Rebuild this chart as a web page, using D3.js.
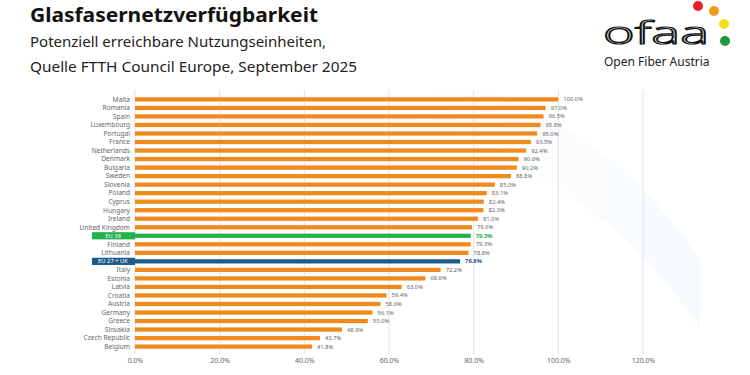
<!DOCTYPE html>
<html lang="de">
<head>
  <meta charset="UTF-8">
  <script src="https://cdn.jsdelivr.net/npm/d3@7"></script>
  <title>Glasfasernetzverfügbarkeit</title>
  <style>
    body { margin: 0; background: #fff; }
    text { font-family: "Noto Sans", sans-serif; }
  </style>
</head>
<body>
  <svg width="750" height="375"></svg>
<script>
  // Daten
  const countries = ["Malta", "Romania", "Spain", "Luxembourg", "Portugal", "France", "Netherlands",
    "Denmark", "Bulgaria", "Sweden", "Slovenia", "Poland", "Cyprus", "Hungary", "Ireland",
    "United Kingdom", "EU 39", "Finland", "Lithuania", "EU 27 + UK", "Italy", "Estonia", "Latvia",
    "Croatia", "Austria", "Germany", "Greece", "Slovakia", "Czech Republic", "Belgium"];
  const coverage = [100.0, 97.0, 96.5, 95.8, 95.0, 93.5, 92.4, 90.6, 90.2, 88.8, 85.0, 83.1, 82.4,
    82.3, 81.0, 79.6, 79.3, 79.3, 78.8, 76.8, 72.2, 68.6, 63.0, 59.4, 58.0, 56.1, 55.0, 48.9, 43.7, 41.8];
  const xTicks = [0, 20, 40, 60, 80, 100, 120];
  const highlight = { "EU 39": "#22b14c", "EU 27 + UK": "#1b5b8c" };

  const data = countries.map((c, i) => ({ name: c, value: coverage[i] }));

  const svg = d3.select("svg");

  // Titel
  svg.append("text")
    .attr("x", 30).attr("y", 22)
    .attr("fill", "#111")
    .attr("textLength", 288)
    .attr("lengthAdjust", "spacingAndGlyphs")
    .style("font-size", "19.5px")
    .style("font-weight", "bold")
    .text("Glasfasernetzverfügbarkeit");

  svg.append("text")
    .attr("x", 30).attr("y", 47)
    .attr("fill", "#222")
    .attr("textLength", 296)
    .attr("lengthAdjust", "spacingAndGlyphs")
    .style("font-size", "15px")
    .text("Potenziell erreichbare Nutzungseinheiten,");

  svg.append("text")
    .attr("x", 30).attr("y", 72)
    .attr("fill", "#222")
    .attr("textLength", 327)
    .attr("lengthAdjust", "spacingAndGlyphs")
    .style("font-size", "15px")
    .text("Quelle FTTH Council Europe, September 2025");

  // Logo
  const logo = svg.append("g");
  logo.append("text")
    .attr("x", 603).attr("y", 44)
    .attr("fill", "none")
    .attr("stroke", "#111")
    .attr("stroke-width", 1.2)
    .attr("textLength", 106)
    .attr("lengthAdjust", "spacingAndGlyphs")
    .style("font-size", "31px")
    .style("font-weight", "300")
    .text("ofaa");
  const dots = [
    { x: 698, y: 6, c: "#e8202a" },
    { x: 714, y: 11, c: "#f39a1e" },
    { x: 724, y: 24, c: "#f6df1c" },
    { x: 725, y: 41, c: "#1f9a3b" }
  ];
  logo.selectAll("circle").data(dots).join("circle")
    .attr("cx", d => d.x).attr("cy", d => d.y).attr("r", 5)
    .attr("fill", d => d.c);
  logo.append("text")
    .attr("x", 604).attr("y", 66)
    .attr("fill", "#222")
    .style("font-size", "12px")
    .text("Open Fiber Austria");

  // Diagramm
  const x = d3.scaleLinear().domain([0, 120]).range([135, 643]);
  const y = d3.scaleBand().domain(countries).range([93, 353]).padding(0.5);

  // dezenter Hintergrundbogen
  const defs = svg.append("defs");
  const grad = defs.append("linearGradient").attr("id", "swoosh").attr("x1", "0").attr("x2", "1");
  grad.append("stop").attr("offset", "0").attr("stop-color", "#f2f7fc").attr("stop-opacity", 0);
  grad.append("stop").attr("offset", "1").attr("stop-color", "#eef5fb").attr("stop-opacity", 0.5);
  svg.append("path")
    .attr("d", "M380,100 C520,150 640,230 700,330 L700,260 C640,170 560,110 470,88 Z")
    .attr("fill", "url(#swoosh)");

  // Gitterlinien
  svg.append("g")
    .selectAll("line")
    .data(xTicks)
    .join("line")
    .attr("x1", d => x(d)).attr("x2", d => x(d))
    .attr("y1", 90).attr("y2", 354)
    .attr("stroke", "#e3e3e3")
    .attr("stroke-width", 1);

  // x-Achse
  const xAxis = svg.append("g")
    .attr("transform", "translate(0,354)")
    .call(d3.axisBottom(x).tickValues(xTicks).tickFormat(d => d.toFixed(1) + "%").tickSize(0).tickPadding(4));
  xAxis.select(".domain").remove();
  xAxis.selectAll("text")
    .attr("fill", "#666")
    .style("font-size", "7px")
    .style("font-family", "Noto Sans, sans-serif");

  // Hervorhebungs-Kästen für EU-Werte
  svg.append("g")
    .selectAll("rect")
    .data(data.filter(d => highlight[d.name]))
    .join("rect")
    .attr("x", 92).attr("width", 43)
    .attr("y", d => y(d.name) + y.bandwidth() / 2 - 3.6)
    .attr("height", 7.2)
    .attr("fill", d => highlight[d.name]);

  // Balken
  svg.append("g")
    .selectAll("rect")
    .data(data)
    .join("rect")
    .attr("x", x(0))
    .attr("y", d => y(d.name))
    .attr("height", y.bandwidth())
    .attr("width", d => x(d.value) - x(0))
    .attr("fill", d => highlight[d.name] || "#f08a1d");

  // Kategorien
  svg.append("g")
    .selectAll("text")
    .data(data)
    .join("text")
    .attr("x", d => highlight[d.name] ? 113 : 130)
    .attr("y", d => y(d.name) + y.bandwidth() / 2)
    .attr("dy", "0.35em")
    .attr("text-anchor", d => highlight[d.name] ? "middle" : "end")
    .attr("fill", d => highlight[d.name] ? "#fff" : "#666")
    .style("font-size", d => highlight[d.name] ? "5.8px" : "6.6px")
    .text(d => d.name);

  // Werte
  svg.append("g")
    .selectAll("text")
    .data(data)
    .join("text")
    .attr("x", d => x(d.value) + 5)
    .attr("y", d => y(d.name) + y.bandwidth() / 2)
    .attr("dy", "0.35em")
    .attr("fill", d => highlight[d.name] || "#666")
    .style("font-size", "5.8px")
    .style("font-weight", d => highlight[d.name] ? "bold" : "normal")
    .text(d => d.value.toFixed(1) + "%");
</script>
</body>
</html>
